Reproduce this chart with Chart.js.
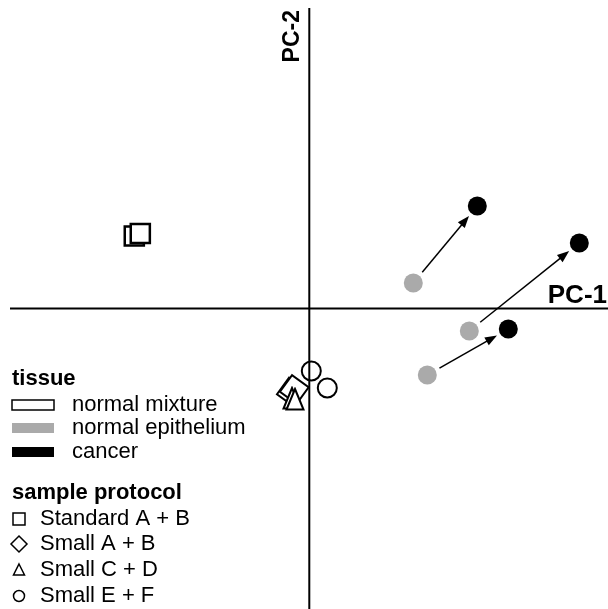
<!DOCTYPE html>
<html>
<head>
<meta charset="utf-8">
<script src="https://cdn.jsdelivr.net/npm/chart.js@4"></script>
<style>
body{margin:0;background:#fff;}
#wrap{width:608px;height:609px;position:relative;}
</style>
</head>
<body>
<div id="wrap"><canvas id="pcaChart"></canvas></div>
<script>
// PC scores
const mixtureStandard = [{x:-17.5,y:7.25},{x:-16.9,y:7.5}];
const mixtureSmallAB  = [{x:-1.8,y:-8.35},{x:-1.5,y:-8.1}];
const mixtureSmallCD  = [{x:-1.73,y:-8.95},{x:-1.43,y:-9.05}];
const mixtureSmallEF  = [{x:0.2,y:-6.25},{x:1.8,y:-7.95}];
const epithelium      = [{x:10.4,y:2.55},{x:16.0,y:-2.25},{x:11.8,y:-6.65}];
const cancer          = [{x:16.8,y:10.25},{x:27.0,y:6.55},{x:19.9,y:-2.05}];

const tissueLabels   = ['normal mixture','normal epithelium','cancer'];
const protocolLabels = ['Standard A + B','Small A + B','Small C + D','Small E + F'];
const axisLabels     = ['PC-1','PC-2'];

const FONT = "'Liberation Sans', Arial, Helvetica, sans-serif";

// tall open triangle used as point style
function triangleMarker(w, h, lw){
  const c = document.createElement('canvas');
  c.width = w; c.height = h;
  const g = c.getContext('2d');
  g.lineWidth = lw;
  g.strokeStyle = '#000';
  g.fillStyle = '#fff';
  g.lineJoin = 'miter';
  g.beginPath();
  g.moveTo(w/2, lw);
  g.lineTo(w - lw/2 - 0.5, h - lw/2 - 0.5);
  g.lineTo(lw/2 + 0.5, h - lw/2 - 0.5);
  g.closePath();
  g.fill();
  g.stroke();
  return c;
}

const pcaDecor = {
  id:'pcaDecor',
  afterDatasetsDraw(chart){
    const {ctx, scales:{x, y}} = chart;
    const x0 = x.getPixelForValue(0), y0 = y.getPixelForValue(0);

    ctx.save();
    // arrows epithelium -> cancer
    ctx.strokeStyle = '#000';
    ctx.fillStyle = '#000';
    ctx.lineWidth = 1.5;
    epithelium.forEach((p, i)=>{
      const q = cancer[i];
      const sx = x.getPixelForValue(p.x), sy = y.getPixelForValue(p.y);
      const ex = x.getPixelForValue(q.x), ey = y.getPixelForValue(q.y);
      const len = Math.hypot(ex-sx, ey-sy);
      const dx = (ex-sx)/len, dy = (ey-sy)/len;
      const ax = sx + dx*14, ay = sy + dy*14;
      const tx = ex - dx*13, ty = ey - dy*13;
      ctx.beginPath();
      ctx.moveTo(ax, ay);
      ctx.lineTo(tx - dx*8, ty - dy*8);
      ctx.stroke();
      ctx.beginPath();
      ctx.moveTo(tx, ty);
      ctx.lineTo(tx - dx*12 - dy*4.5, ty - dy*12 + dx*4.5);
      ctx.lineTo(tx - dx*12 + dy*4.5, ty - dy*12 - dx*4.5);
      ctx.closePath();
      ctx.fill();
    });

    // axes through the origin
    ctx.lineWidth = 2;
    ctx.beginPath();
    ctx.moveTo(x0, 8); ctx.lineTo(x0, chart.height);
    ctx.moveTo(10, y0); ctx.lineTo(chart.width, y0);
    ctx.stroke();

    ctx.font = 'bold 26px ' + FONT;
    ctx.textAlign = 'right';
    ctx.textBaseline = 'alphabetic';
    ctx.fillText(axisLabels[0], 607, y0 - 6);
    ctx.save();
    ctx.font = 'bold 23px ' + FONT;
    ctx.translate(x0 - 10.5, 10);
    ctx.rotate(-Math.PI/2);
    ctx.textAlign = 'right';
    ctx.fillText(axisLabels[1], 0, 0);
    ctx.restore();

    // tissue legend
    ctx.textAlign = 'left';
    ctx.textBaseline = 'middle';
    ctx.font = 'bold 22px ' + FONT;
    ctx.fillText('tissue', 12, 379);
    ctx.font = '22px ' + FONT;
    const tissueY = [405, 428, 452];
    const tissueFill = ['#fff','#aaa','#000'];
    tissueLabels.forEach((t, i)=>{
      ctx.fillStyle = tissueFill[i];
      ctx.fillRect(12, tissueY[i]-5, 42, 10);
      if(i === 0){
        ctx.strokeStyle = '#000';
        ctx.lineWidth = 1.5;
        ctx.strokeRect(12, tissueY[i]-5, 42, 10);
      }
      ctx.fillStyle = '#000';
      ctx.fillText(t, 72, tissueY[i]);
    });

    // protocol legend
    ctx.font = 'bold 22px ' + FONT;
    ctx.fillText('sample protocol', 12, 493);
    ctx.font = '22px ' + FONT;
    const protoY = [519, 544, 570, 596];
    ctx.lineWidth = 1.5;
    ctx.strokeStyle = '#000';
    protocolLabels.forEach((t, i)=>{
      const cy = protoY[i], cx = 19;
      ctx.beginPath();
      if(i === 0){
        ctx.rect(cx-6, cy-6, 12, 12);
      } else if(i === 1){
        ctx.moveTo(cx, cy-8); ctx.lineTo(cx+8, cy); ctx.lineTo(cx, cy+8); ctx.lineTo(cx-8, cy); ctx.closePath();
      } else if(i === 2){
        ctx.moveTo(cx, cy-6); ctx.lineTo(cx+5.5, cy+5); ctx.lineTo(cx-5.5, cy+5); ctx.closePath();
      } else {
        ctx.arc(cx, cy, 5.5, 0, Math.PI*2);
      }
      ctx.stroke();
      ctx.fillText(t, 40, cy);
    });
    ctx.restore();
  }
};

const openMarker = {backgroundColor:'#fff', borderColor:'#000', borderWidth:2, pointHoverRadius:0};
const triImg = triangleMarker(20, 24, 2);

// lower order is drawn on top
new Chart(document.getElementById('pcaChart'), {
  type:'scatter',
  data:{
    datasets:[
      {label:'normal mixture, Standard A + B', data:mixtureStandard, pointStyle:'rect', pointRadius:13.5, ...openMarker, borderWidth:2.5, order:5},
      {label:'normal mixture, Small A + B', data:mixtureSmallAB, pointStyle:'rectRot', pointRadius:14.5, rotation:-9, ...openMarker, order:4},
      {label:'normal mixture, Small C + D', data:mixtureSmallCD, pointStyle:triImg, pointRadius:12, ...openMarker, order:3},
      {label:'normal mixture, Small E + F', data:mixtureSmallEF, pointStyle:'circle', pointRadius:9.5, ...openMarker, order:2},
      {label:'normal epithelium', data:epithelium, pointStyle:'circle', pointRadius:9.5, backgroundColor:'#aaa', borderColor:'#aaa', borderWidth:0, order:1},
      {label:'cancer', data:cancer, pointStyle:'circle', pointRadius:9.5, backgroundColor:'#000', borderColor:'#000', borderWidth:0, order:0}
    ]
  },
  options:{
    responsive:true,
    maintainAspectRatio:false,
    animation:false,
    layout:{padding:0, autoPadding:false},
    plugins:{legend:{display:false}, tooltip:{enabled:false}},
    scales:{
      x:{type:'linear', min:-30.93, max:29.87, display:false},
      y:{type:'linear', min:-30.05, max:30.85, display:false}
    }
  },
  plugins:[pcaDecor]
});
</script>
</body>
</html>
